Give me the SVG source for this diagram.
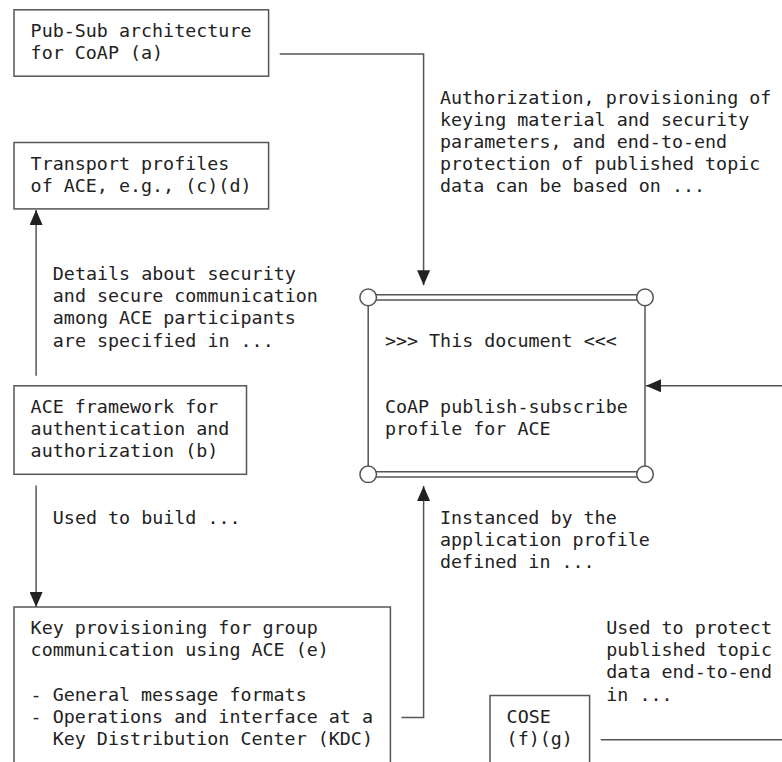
<svg xmlns="http://www.w3.org/2000/svg" width="782" height="762" viewBox="0 0 782 762">
<defs>
<style>
.box{fill:none;stroke:#555;stroke-width:1.5}
.ln{fill:none;stroke:#555;stroke-width:1.5}
.cir{fill:#fff;stroke:#555;stroke-width:1.5}
text{font-family:"DejaVu Sans Mono","Liberation Mono",monospace;font-size:18.35px;fill:#222;white-space:pre}
</style>
<marker id="ah" viewBox="0 0 15 13" refX="15" refY="6.5" markerWidth="15" markerHeight="13" orient="auto" markerUnits="userSpaceOnUse">
<path d="M0,0 L15,6.5 L0,13 Z" fill="#222"/>
</marker>
</defs>
<rect width="782" height="762" fill="#fff"/>

<g id="connectors">
<path class="ln" d="M279.7,54 H423.6 V285.3" marker-end="url(#ah)"/>
<path class="ln" d="M36.1,375.7 V209.9" marker-end="url(#ah)"/>
<path class="ln" d="M36.1,485.4 V607" marker-end="url(#ah)"/>
<path class="ln" d="M401.5,717.6 H423.6 V486" marker-end="url(#ah)"/>
<path class="ln" d="M782,385.8 H646" marker-end="url(#ah)"/>
<path class="ln" d="M600.7,739.8 H782"/>
</g>

<g id="lbl-auth">
<text x="440" y="103.5">Authorization, provisioning of</text>
<text x="440" y="125.6">keying material and security</text>
<text x="440" y="147.7">parameters, and end-to-end</text>
<text x="440" y="169.8">protection of published topic</text>
<text x="440" y="192">data can be based on ...</text>
</g>
<g id="lbl-details">
<text x="52.8" y="280.2">Details about security</text>
<text x="52.8" y="302.3">and secure communication</text>
<text x="52.8" y="324.4">among ACE participants</text>
<text x="52.8" y="346.6">are specified in ...</text>
</g>
<g id="lbl-build">
<text x="52.8" y="523.5">Used to build ...</text>
</g>
<g id="lbl-instanced">
<text x="440" y="523.5">Instanced by the</text>
<text x="440" y="545.6">application profile</text>
<text x="440" y="567.8">defined in ...</text>
</g>
<g id="lbl-protect">
<text x="606.3" y="634.2">Used to protect</text>
<text x="606.3" y="656.3">published topic</text>
<text x="606.3" y="678.4">data end-to-end</text>
<text x="606.3" y="700.5">in ...</text>
</g>

<g id="node-pubsub">
<rect class="box" x="14" y="9.8" width="254.6" height="66.4"/>
<text x="30.6" y="36.9">Pub-Sub architecture</text>
<text x="30.6" y="59">for CoAP (a)</text>
</g>

<g id="node-transport">
<rect class="box" x="14" y="142.5" width="254.6" height="66.4"/>
<text x="30.6" y="169.7">Transport profiles</text>
<text x="30.6" y="191.8">of ACE, e.g., (c)(d)</text>
</g>

<g id="node-ace">
<rect class="box" x="14" y="385.8" width="232.5" height="88.5"/>
<text x="30.6" y="412.9">ACE framework for</text>
<text x="30.6" y="435.1">authentication and</text>
<text x="30.6" y="457.2">authorization (b)</text>
</g>

<g id="node-this">
<line class="ln" x1="368.2" y1="305.7" x2="368.2" y2="466"/>
<line class="ln" x1="645" y1="305.7" x2="645" y2="466"/>
<line class="ln" x1="376" y1="294.8" x2="637" y2="294.8"/>
<line class="ln" x1="376" y1="300" x2="637" y2="300"/>
<line class="ln" x1="376" y1="471.7" x2="637" y2="471.7"/>
<line class="ln" x1="376" y1="476.9" x2="637" y2="476.9"/>
<circle class="cir" cx="368.2" cy="297.4" r="8.3"/>
<circle class="cir" cx="645" cy="297.4" r="8.3"/>
<circle class="cir" cx="368.2" cy="474.3" r="8.3"/>
<circle class="cir" cx="645" cy="474.3" r="8.3"/>
<text x="384.9" y="346.6">&gt;&gt;&gt; This document &lt;&lt;&lt;</text>
<text x="384.9" y="413">CoAP publish-subscribe</text>
<text x="384.9" y="435.1">profile for ACE</text>
</g>

<g id="node-keyprov">
<rect class="box" x="14" y="607" width="376.4" height="180"/>
<text x="30.6" y="634.2">Key provisioning for group</text>
<text x="30.6" y="656.3">communication using ACE (e)</text>
<text x="30.6" y="700.5">- General message formats</text>
<text x="30.6" y="722.6">- Operations and interface at a</text>
<text x="30.6" y="744.8">  Key Distribution Center (KDC)</text>
</g>

<g id="node-cose">
<rect class="box" x="490" y="695.5" width="99.6" height="100"/>
<text x="506.6" y="722.6">COSE</text>
<text x="506.6" y="744.8">(f)(g)</text>
</g>
</svg>
